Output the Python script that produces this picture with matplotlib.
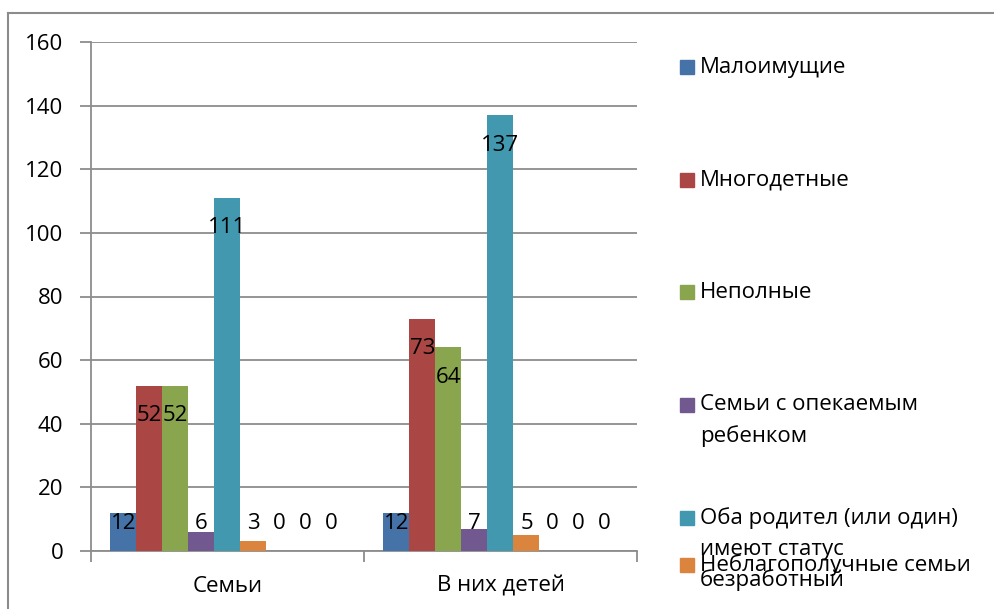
import numpy as np
import matplotlib
matplotlib.use("Agg")
import matplotlib.pyplot as plt
from matplotlib.patches import Rectangle
from matplotlib.lines import Line2D

plt.rcParams['font.family'] = ['Open Sans', 'DejaVu Sans']

# data
categories = ['Семьи', 'В них детей']
series_names = ['Малоимущие', 'Многодетные', 'Неполные',
                'Семьи с опекаемым\nребенком',
                'Оба родител (или один)\nимеют статус\nбезработный',
                'Неблагополучные семьи',
                'Ряд 7', 'Ряд 8', 'Ряд 9']
values = [
    [12, 12],
    [52, 73],
    [52, 64],
    [6, 7],
    [111, 137],
    [3, 5],
    [0, 0],
    [0, 0],
    [0, 0],
]
colors = ['#4572A7', '#AA4643', '#89A54E', '#71588F', '#4198AF', '#DB843D',
          '#7F9BC8', '#C97F7D', '#B1C98A']
yticks = [0, 20, 40, 60, 80, 100, 120, 140, 160]

FS = 16
W, H = 995, 609
fig = plt.figure(figsize=(W / 100, H / 100), dpi=100)
ax = fig.add_axes([91 / W, 1 - 551 / H, (637 - 91) / W, (551 - 42) / H])

n = len(values)
bw = 1 / (n + 1.5)
x = np.arange(len(categories))
for i, vals in enumerate(values):
    xs = x + (i - (n - 1) / 2) * bw
    ax.bar(xs, vals, width=bw, color=colors[i], zorder=3)
    for xx, v in zip(xs, vals):
        ax.text(xx, max(v - 9.4, 8.8), str(v), ha='center', va='center',
                fontsize=FS, color='black', zorder=4)

ax.set_xlim(-0.5, len(categories) - 0.5)
ax.set_ylim(0, 160)
ax.set_yticks(yticks)
ax.set_yticklabels([str(t) for t in yticks], fontsize=FS)
ax.yaxis.grid(True, color='#8c8c8c', linewidth=1.3, zorder=1)
ax.set_axisbelow(True)

ax.set_xticks(x)
ax.set_xticklabels(categories, fontsize=FS)
ax.tick_params(axis='x', which='major', length=0, pad=18)
ax.set_xticks(np.arange(len(categories) + 1) - 0.5, minor=True)
ax.tick_params(axis='x', which='minor', length=8, color='#8c8c8c', width=1.3)
ax.tick_params(axis='y', length=8, color='#8c8c8c', width=1.3, pad=12)

for s in ['top', 'right']:
    ax.spines[s].set_visible(False)
for s in ['left', 'bottom']:
    ax.spines[s].set_color('#8c8c8c')
    ax.spines[s].set_linewidth(1.3)

# legend drawn by hand (only the visible entries fit)
leg_y = [67, 180, 292, 405, 518, 565]
for k, yy in enumerate(leg_y):
    fig.patches.append(Rectangle((680 / W, 1 - (yy + 7) / H), 14 / W, 14 / H,
                                 transform=fig.transFigure, color=colors[k]))
    for j, line in enumerate(series_names[k].split('\n')):
        fig.text(700 / W, 1 - (yy + j * 31) / H, line, ha='left', va='center',
                 fontsize=FS)

# outer frame
fig.add_artist(Line2D([8 / W, 1], [1 - 13 / H, 1 - 13 / H], color='#8c8c8c', lw=1.5,
                      transform=fig.transFigure))
fig.add_artist(Line2D([8 / W, 8 / W], [1 - 13 / H, 0], color='#8c8c8c', lw=1.5,
                      transform=fig.transFigure))

fig.savefig('out.png', dpi=100)
